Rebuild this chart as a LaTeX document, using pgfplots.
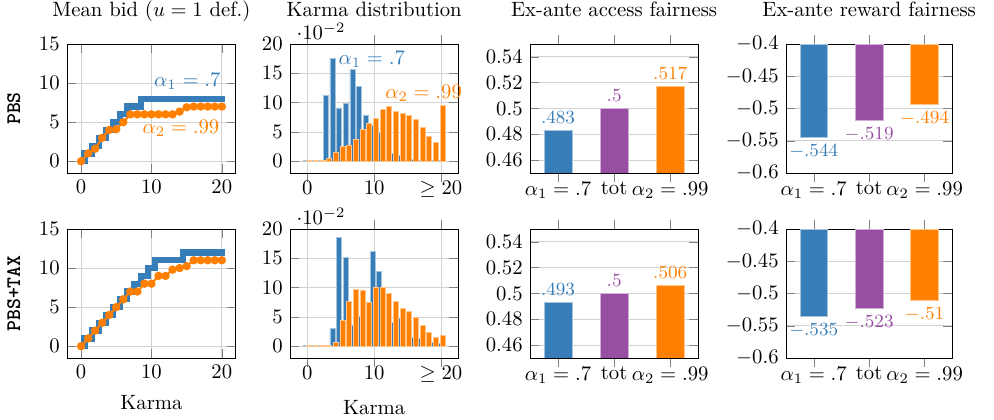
\documentclass[border=0pt]{standalone}
\usepackage{pgfplots}
\usepackage{pgfplotstable}
\pgfplotsset{compat=1.18}

\definecolor{cblue}{HTML}{377EB8}
\definecolor{cpurple}{HTML}{984EA3}
\definecolor{corange}{HTML}{FF7F00}

% mean bid per karma level (k, bid)
\pgfplotstableread{
k v
0 0
1 1
2 2
3 3
4 4
5 5
6 6
7 7
8 7
9 8
10 8
11 8
12 8
13 8
14 8
15 8
16 8
17 8
18 8
19 8
20 8
21 8
}\bidPbsBlue
\pgfplotstableread{
k v
0 0
1 1
2 1.6
3 3
4 4
5 4.1
6 5
7 6
8 6
9 6
10 6
11 6
12 6
13 6
14 6.35
15 6.9
16 7
17 7
18 7
19 7
20 7
}\bidPbsOrange
\pgfplotstableread{
k v
0 0
1 1
2 2
3 3
4 4
5 5
6 6
7 7
8 8
9 9
10 10
11 11
12 11
13 11
14 11
15 12
16 12
17 12
18 12
19 12
20 12
21 12
}\bidTaxBlue
\pgfplotstableread{
k v
0 0
1 1
2 2
3 3
4 4
5 5
6 6
7 7
8 7
9 8
10 8
11 9
12 9
13 9.8
14 10
15 10.25
16 11
17 11
18 11
19 11
20 11
}\bidTaxOrange

% karma distribution
\pgfplotstableread{
k p
0 0.001
1 0.001
2 0.001
3 0.113
4 0.176
5 0.091
6 0.098
7 0.157
8 0.128
9 0.079
10 0.062
11 0.050
12 0.030
13 0.013
14 0.010
15 0.006
16 0.003
17 0.002
18 0.002
19 0.001
20 0.001
}\karmaPbsBlue
\pgfplotstableread{
k p
0 0.001
1 0.001
2 0.001
3 0.005
4 0.016
5 0.025
6 0.028
7 0.037
8 0.054
9 0.065
10 0.073
11 0.089
12 0.093
13 0.085
14 0.082
15 0.078
16 0.071
17 0.058
18 0.043
19 0.032
20 0.095
}\karmaPbsOrange
\pgfplotstableread{
k p
0 0.001
1 0.001
2 0.001
3 0.001
4 0.030
5 0.186
6 0.152
7 0.035
8 0.051
9 0.063
10 0.162
11 0.127
12 0.038
13 0.041
14 0.048
15 0.039
16 0.016
17 0.013
18 0.010
19 0.006
20 0.005
}\karmaTaxBlue
\pgfplotstableread{
k p
0 0.001
1 0.001
2 0.001
3 0.001
4 0.007
5 0.044
6 0.077
7 0.097
8 0.096
9 0.075
10 0.100
11 0.100
12 0.090
13 0.077
14 0.064
15 0.060
16 0.049
17 0.036
18 0.023
19 0.015
20 0.018
}\karmaTaxOrange

\pgfplotsset{
  base/.style={
    scale only axis, anchor=north west, height=62.3pt,
    grid style={gray!35, line width=0.4pt},
    every axis title/.style={at={(axis description cs:0.5,1)}, anchor=base, yshift=13.2pt},
  },
  bidplot/.style={
    base, width=81.6pt, clip=false,
    xmin=-2, xmax=22, ymin=-1.5, ymax=15,
    xtick={0,10,20}, ytick={0,5,10,15}, grid=major,
    every axis y label/.style={at={(axis description cs:-0.278,0.5)}, rotate=90, anchor=base},
    every axis x label/.style={at={(axis description cs:0.5,0)}, anchor=base, yshift=-25.1pt},
  },
  histplot/.style={
    base, width=81.3pt, clip=false, ybar, bar width=0.74,
    xmin=-2.6, xmax=22.6, ymin=-0.02, ymax=0.2,
    xtick={0,10,20}, xticklabels={0,10,$\geq 20$},
    xticklabel style={yshift=4pt},
    ytick={0,0.05,0.1,0.15,0.2}, scaled y ticks=base 10:2,
    grid=major,
    every axis x label/.style={at={(axis description cs:0.5,0)}, anchor=base, yshift=-27.5pt},
  },
  fairplot/.style={
    base, ybar, bar width=0.5,
    xmin=-0.5, xmax=2.5, xtick={0,1,2},
    xticklabels={$\alpha_1=.7$, tot, $\alpha_2=.99$},
    xticklabel style={yshift=3.5pt},
    ymajorgrids,
    nodes near coords={\pgfmathprintnumber[fixed,precision=3,skip 0.]{\pgfplotspointmeta}},
    every node near coord/.append style={font=\small},
  },
  blue bar/.style={fill=cblue, draw=cblue!45!white, line width=0.3pt},
  orange bar/.style={fill=corange, draw=corange!45!white, line width=0.3pt},
  purple bar/.style={fill=cpurple, draw=cpurple!45!white, line width=0.3pt},
}

\begin{document}
\begin{tikzpicture}
\useasboundingbox (0,0) rectangle (480.2pt,-202.9pt);

% ---------- row 1: PBS ----------
\begin{axis}[bidplot, at={(32.37pt,-21.26pt)},
  title={Mean bid ($u=1$ def.)}, ylabel={\ttfamily\bfseries PBS}]
\addplot[cblue, line width=3pt, const plot mark left] table[x expr=\thisrow{k}-0.5, y=v] {\bidPbsBlue};
\addplot[corange, line width=1pt, mark=*, mark size=1.5pt] table[x=k, y=v] {\bidPbsOrange};
\node[cblue] at (axis cs:15.1,10.2) {$\alpha_1=.7$};
\node[corange] at (axis cs:14.2,4.2) {$\alpha_2=.99$};
\end{axis}

\begin{axis}[histplot, at={(140.1pt,-21.26pt)}, title={Karma distribution}]
\addplot[blue bar, bar shift=-0.25] table[x=k, y=p] {\karmaPbsBlue};
\addplot[orange bar, bar shift=0.25] table[x=k, y=p] {\karmaPbsOrange};
\node[cblue] at (axis cs:9.65,0.174) {$\alpha_1=.7$};
\node[corange] at (axis cs:17.4,0.116) {$\alpha_2=.99$};
\end{axis}

\begin{axis}[fairplot, at={(256.04pt,-21.26pt)}, width=81.31pt,
  title={Ex-ante access fairness},
  ymin=0.45, ymax=0.55, ytick={0.46,0.48,0.5,0.52,0.54}]
\addplot[blue bar, bar shift=0pt, every node near coord/.append style={text=cblue}] coordinates {(0,0.483)};
\addplot[purple bar, bar shift=0pt, every node near coord/.append style={text=cpurple}] coordinates {(1,0.5)};
\addplot[orange bar, bar shift=0pt, every node near coord/.append style={text=corange}] coordinates {(2,0.517)};
\end{axis}

\begin{axis}[fairplot, at={(379.72pt,-21.26pt)}, width=80.34pt,
  title={Ex-ante reward fairness},
  ymin=-0.6, ymax=-0.4, ytick={-0.6,-0.55,-0.5,-0.45,-0.4}]
\addplot[blue bar, bar shift=0pt, every node near coord/.append style={text=cblue}] coordinates {(0,-0.544)};
\addplot[purple bar, bar shift=0pt, every node near coord/.append style={text=cpurple}] coordinates {(1,-0.519)};
\addplot[orange bar, bar shift=0pt, every node near coord/.append style={text=corange}] coordinates {(2,-0.494)};
\end{axis}

% ---------- row 2: PBS+TAX ----------
\begin{axis}[bidplot, at={(32.37pt,-110.63pt)},
  xlabel={Karma}, ylabel={\ttfamily\bfseries PBS+TAX}]
\addplot[cblue, line width=3pt, const plot mark left] table[x expr=\thisrow{k}-0.5, y=v] {\bidTaxBlue};
\addplot[corange, line width=1pt, mark=*, mark size=1.5pt] table[x=k, y=v] {\bidTaxOrange};
\end{axis}

\begin{axis}[histplot, at={(140.1pt,-110.63pt)}, xlabel={Karma}]
\addplot[blue bar, bar shift=-0.25] table[x=k, y=p] {\karmaTaxBlue};
\addplot[orange bar, bar shift=0.25] table[x=k, y=p] {\karmaTaxOrange};
\end{axis}

\begin{axis}[fairplot, at={(256.04pt,-110.63pt)}, width=81.31pt,
  ymin=0.45, ymax=0.55, ytick={0.46,0.48,0.5,0.52,0.54}]
\addplot[blue bar, bar shift=0pt, every node near coord/.append style={text=cblue}] coordinates {(0,0.493)};
\addplot[purple bar, bar shift=0pt, every node near coord/.append style={text=cpurple}] coordinates {(1,0.5)};
\addplot[orange bar, bar shift=0pt, every node near coord/.append style={text=corange}] coordinates {(2,0.506)};
\end{axis}

\begin{axis}[fairplot, at={(379.72pt,-110.63pt)}, width=80.34pt,
  ymin=-0.6, ymax=-0.4, ytick={-0.6,-0.55,-0.5,-0.45,-0.4}]
\addplot[blue bar, bar shift=0pt, every node near coord/.append style={text=cblue}] coordinates {(0,-0.535)};
\addplot[purple bar, bar shift=0pt, every node near coord/.append style={text=cpurple}] coordinates {(1,-0.523)};
\addplot[orange bar, bar shift=0pt, every node near coord/.append style={text=corange}] coordinates {(2,-0.51)};
\end{axis}
\end{tikzpicture}
\end{document}
